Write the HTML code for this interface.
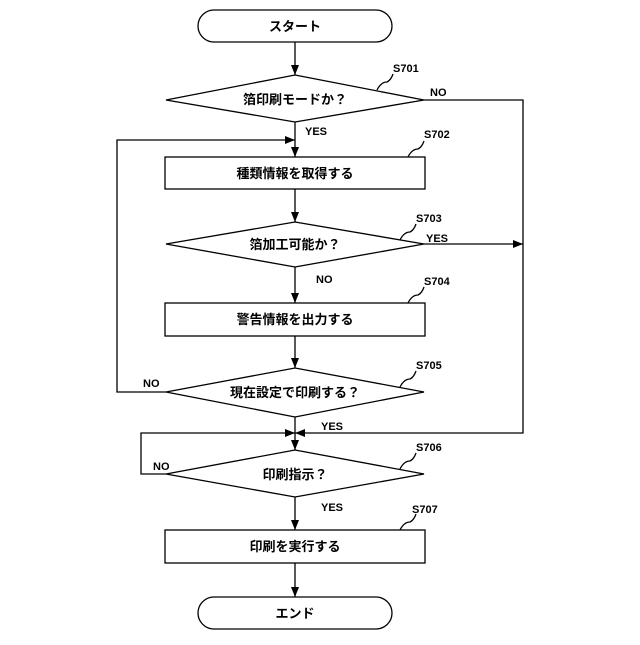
<!DOCTYPE html>
<html><head><meta charset="utf-8"><style>body{margin:0;background:#fff}</style></head><body>
<svg width="640" height="640" xmlns="http://www.w3.org/2000/svg" font-family="'Liberation Sans','Noto Sans CJK JP',sans-serif" font-weight="bold">
<defs><marker id="a" markerWidth="10" markerHeight="8" refX="10" refY="4" orient="auto" markerUnits="userSpaceOnUse"><path d="M0,0L10,4L0,8z" fill="#000"/></marker></defs>
<g fill="none" stroke="#000" stroke-width="1.3">
<rect x="198" y="10" width="194" height="32" rx="16"/>
<rect x="198" y="597" width="194" height="32" rx="16"/>
<polygon points="295,75 424,100 295,122 166,100" fill="#fff"/>
<rect x="165" y="157" width="260" height="32"/>
<polygon points="295,222 424,244 295,267 166,244"/>
<rect x="165" y="303" width="260" height="33"/>
<polygon points="295,368 424,392 295,417 166,392"/>
<polygon points="295,450 424,474 295,497 166,474"/>
<rect x="165" y="530" width="260" height="33"/>
<line x1="295" y1="42" x2="295" y2="75" marker-end="url(#a)"/>
<line x1="295" y1="122" x2="295" y2="157" marker-end="url(#a)"/>
<line x1="295" y1="189" x2="295" y2="222" marker-end="url(#a)"/>
<line x1="295" y1="267" x2="295" y2="303" marker-end="url(#a)"/>
<line x1="295" y1="336" x2="295" y2="368" marker-end="url(#a)"/>
<line x1="295" y1="417" x2="295" y2="450" marker-end="url(#a)"/>
<line x1="295" y1="497" x2="295" y2="530" marker-end="url(#a)"/>
<line x1="295" y1="563" x2="295" y2="597" marker-end="url(#a)"/>
<polyline points="424,100 523,100 523,433 295,433" marker-end="url(#a)"/>
<line x1="424" y1="244" x2="523" y2="244" marker-end="url(#a)"/>
<polyline points="166,392 117,392 117,140 295,140" marker-end="url(#a)"/>
<polyline points="166,474 141,474 141,433 295,433" marker-end="url(#a)"/>
<path d="M377,90 q4,-8 10,-8 q4,-2 6,-8"/>
<path d="M408,157 q4,-8 10,-8 q4,-2 6,-8"/>
<path d="M400,240 q4,-8 10,-8 q4,-2 6,-8"/>
<path d="M408,303 q4,-8 10,-8 q4,-2 6,-8"/>
<path d="M400,387 q4,-8 10,-8 q4,-2 6,-8"/>
<path d="M400,469 q4,-8 10,-8 q4,-2 6,-8"/>
<path d="M400,530 q4,-8 10,-8 q4,-2 6,-8"/>
</g>
<g font-size="13" text-anchor="middle">
<text x="295" y="31">スタート</text>
<text x="295" y="104">箔印刷モードか？</text>
<text x="295" y="178">種類情報を取得する</text>
<text x="295" y="249">箔加工可能か？</text>
<text x="295" y="324">警告情報を出力する</text>
<text x="295" y="397">現在設定で印刷する？</text>
<text x="295" y="479">印刷指示？</text>
<text x="295" y="551">印刷を実行する</text>
<text x="295" y="618">エンド</text>
</g>
<g font-size="11">
<text x="393" y="72">S701</text><text x="424" y="138">S702</text><text x="416" y="222">S703</text>
<text x="424" y="285">S704</text><text x="416" y="369">S705</text><text x="416" y="451">S706</text><text x="412" y="513">S707</text>
<text x="430" y="96">NO</text><text x="305" y="135">YES</text><text x="426" y="242">YES</text>
<text x="316" y="283">NO</text><text x="143" y="387">NO</text><text x="321" y="430">YES</text>
<text x="153" y="470">NO</text><text x="321" y="511">YES</text>
</g>
</svg>
</body></html>
